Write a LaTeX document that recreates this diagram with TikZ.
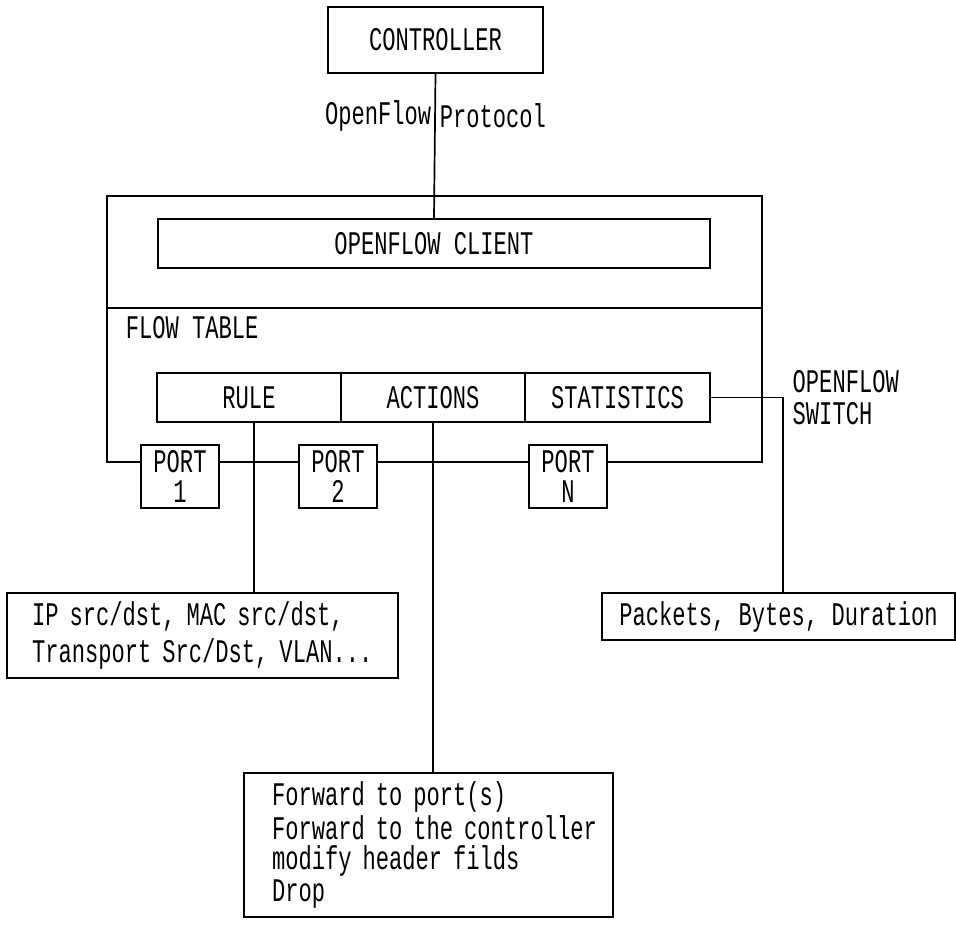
\documentclass[tikz,border=0pt]{standalone}
\usepackage{fontspec}
\setmainfont{Liberation Mono}[FakeStretch=0.67]
\usetikzlibrary{positioning}
\tikzset{
  box/.style={draw, inner sep=0pt, minimum height=49pt},
  cell/.style={box, minimum width=184pt},
  port/.style={box, fill=white, align=center, minimum width=78pt, minimum height=63pt},
  label/.style={inner sep=0pt},
}
\begin{document}
\begin{tikzpicture}[x=1pt, y=-1pt, line width=1.7pt,
    every node/.style={font=\fontsize{33}{28}\selectfont}]
  \useasboundingbox (0,0) rectangle (956,925);
  % controller and switch
  \node[box, minimum width=215pt, minimum height=66pt] (controller) at (435.5,40) {CONTROLLER};
  \node[label, anchor=east] (protoleft) at (432,116) {OpenFlow};
  \node[label, anchor=west] (protoright) at (439,116) {Protocol};
  \node[box, minimum width=655pt, minimum height=266pt] (switch) at (434.5,329) {};
  \node[box, minimum width=552pt] (client) at (434,243.5) {OPENFLOW CLIENT};
  \coordinate (divider) at (0,308);
  \draw (switch.west |- divider) -- (switch.east |- divider);
  \node[label, anchor=base west] (flowtable) at (125,339) {FLOW TABLE};
  % flow table entry
  \node[cell] (rule) at (249,397.5) {RULE};
  \node[cell] (actions) at (433,397.5) {ACTIONS};
  \node[cell, minimum width=185pt] (stats) at (617.5,397.5) {STATISTICS};
  \node[label, anchor=west, align=left, right=81pt of stats] (switchlabel) {OPENFLOW\\[4pt]SWITCH};
  % ports
  \node[port] (port1) at (180,476.5) {PORT\\[2pt]1};
  \node[port] (port2) at (338,476.5) {PORT\\[2pt]2};
  \node[port] (portn) at (568,476.5) {PORT\\[2pt]N};
  % details
  \node[box, minimum height=85pt, text width=341pt, inner xsep=25pt, align=left] (fields) at (202.5,635.5)
    {\mbox{IP src/dst, MAC src/dst,}\\[6pt]\mbox{Transport Src/Dst, VLAN...}};
  \node[box, minimum width=353pt, minimum height=47pt] (counters) at (778.5,616.5)
    {Packets, Bytes, Duration};
  \node[box, minimum height=144pt, text width=313pt, inner xsep=28pt, align=left] (todo) at (428.5,845)
    {\mbox{Forward to port(s)}\\[2pt]\mbox{Forward to the controller}\\[2pt]\mbox{modify header filds}\\[2pt]\mbox{Drop}};
  \begin{scope}
    \draw (controller.south) -- (client.north);
    \draw ([xshift=5pt]rule.south) -- ([xshift=5pt]rule.south |- fields.north);
    \draw (actions.south) -- (actions.south |- todo.north);
    \draw (stats.east) -| ([xshift=4.5pt]counters.north);
  \end{scope}
\end{tikzpicture}
\end{document}
